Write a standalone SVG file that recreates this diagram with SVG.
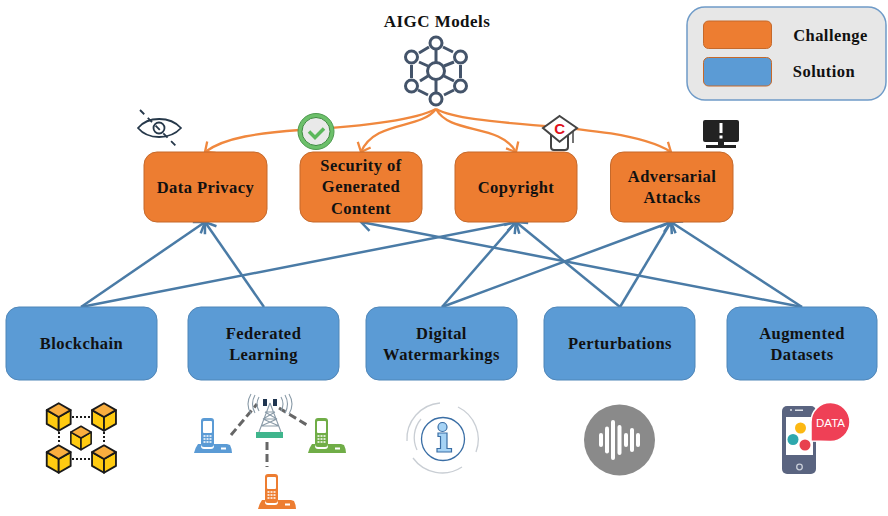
<svg xmlns="http://www.w3.org/2000/svg" width="888" height="516" viewBox="0 0 888 516">
<style>
text{font-family:"Liberation Serif","Times New Roman",serif;font-weight:bold;font-size:16.5px;fill:#111;text-anchor:middle;letter-spacing:.45px}
.ch{fill:#ed7d31;stroke:#c5692b;stroke-width:1}
.so{fill:#5b9bd5;stroke:#4f86b8;stroke-width:1}
.or{fill:none;stroke:#f0883e;stroke-width:2.300}
.bl{fill:none;stroke:#4a7ba6;stroke-width:2.500}
.net{fill:none;stroke:#44546a;stroke-width:3}
.top{fill:#f9ae3f;stroke:#1a1a1a;stroke-width:2;stroke-linejoin:round}
.sd{fill:#ffcb11;stroke:#1a1a1a;stroke-width:2;stroke-linejoin:round}
.ln{fill:none;stroke:#1a1a1a;stroke-width:2;stroke-dasharray:2 2}
.dsh{fill:none;stroke:#666;stroke-width:3;stroke-dasharray:8 4}
.bar{fill:#fff}
</style>
<defs>
<marker id="ao" markerUnits="userSpaceOnUse" markerWidth="18" markerHeight="18" refX="12" refY="9" orient="auto"><path d="M4,2L12,9L4,16" fill="none" stroke="#f0883e" stroke-width="2.300"/></marker>
<marker id="ab" markerUnits="userSpaceOnUse" markerWidth="20" markerHeight="20" refX="14" refY="10" orient="auto"><path d="M4,3L14,10L4,17" fill="none" stroke="#4a7ba6" stroke-width="2.500"/></marker>
<g id="cube" transform="scale(.92)"><path class="sd" d="M-13,-7.500L0,0L0,15L-13,7.500Z"/><path class="sd" d="M13,-7.500L0,0L0,15L13,7.500Z"/><path class="top" d="M0,-15L13,-7.500L0,0L-13,-7.500Z"/></g>
<g id="phone"><path d="M0,32Q1,27 4,23H7V25Q7,28 10,28H17Q20,28 20,25V23H33L36,24Q38,28 38,32Z" fill="currentColor"/><rect x="7" y="-3" width="13" height="29" rx="3" fill="currentColor"/><rect x="9" y="0" width="9" height="12" rx="1" fill="#fff"/><path d="M9.500,15h8M9.500,18h8M9.500,21h8" stroke="#fff" stroke-width="1.500" stroke-dasharray="2 1"/><rect x="27" y="26.500" width="5" height="2" fill="#fff"/></g>
</defs>
<g id="connectors">
<path class="or" marker-end="url(#ao)" d="M436,109C415,120 370,126 300,130C260,133 225,137 205,152"/>
<path class="or" marker-end="url(#ao)" d="M436,109C420,130 375,120 361,152"/>
<path class="or" marker-end="url(#ao)" d="M436,109C450,135 500,123 516,152"/>
<path class="or" marker-end="url(#ao)" d="M436,109C475,130 620,120 671,152"/>
<path class="bl" marker-end="url(#ab)" d="M81,307L205,222"/>
<path class="bl" marker-end="url(#ab)" d="M264,307L205,222"/>
<path class="bl" marker-end="url(#ab)" d="M81,307L516,222"/>
<path class="bl" marker-end="url(#ab)" d="M442,307L516,222"/>
<path class="bl" marker-end="url(#ab)" d="M442,307L671,222"/>
<path class="bl" marker-end="url(#ab)" d="M620,307L516,222"/>
<path class="bl" marker-end="url(#ab)" d="M620,307L671,222"/>
<path class="bl" marker-end="url(#ab)" d="M802,307L671,222"/>
<path class="bl" marker-end="url(#ab)" d="M802,307L361,222"/>
</g>
<g id="aigc-models">
<text x="437" y="27" style="font-size:17px">AIGC Models</text>
<g class="net">
<circle cx="436" cy="43" r="6"/><circle cx="411.500" cy="57" r="6"/><circle cx="460.500" cy="57" r="6"/><circle cx="411.500" cy="86" r="6"/><circle cx="460.500" cy="86" r="6"/><circle cx="436" cy="71" r="8.500"/><circle cx="436" cy="99" r="6"/>
<path d="M436,50V62M436,80V93M419,53L429,47M443,47L453,52M419,62L428,66M444,66L454,62M411.500,65V78M460.500,65V78M420,81L428,76M444,76L454,81M418,90L428,95M444,95L454,90"/>
</g>
</g>
<g id="data-privacy"><rect class="ch" x="144" y="152" width="123" height="70" rx="13"/><text x="205.500" y="193">Data Privacy</text>
<g id="eye-icon" fill="none" stroke="#26384a" stroke-width="1.800"><path d="M138,128C148,116 170,116 181,128C170,140 148,140 138,128Z"/><circle cx="159" cy="128" r="5.500"/><path d="M140,110L178,148" stroke-dasharray="6 5"/></g></g>
<g id="security"><rect class="ch" x="300" y="152" width="122" height="70" rx="13"/><text x="361" y="171">Security of</text><text x="361" y="192">Generated</text><text x="361" y="214">Content</text>
<g id="check-icon"><circle cx="316" cy="131.500" r="18" fill="#6cc06a" stroke="#4f9a50"/><circle cx="316" cy="131.500" r="14" fill="#e9e9e9" stroke="#3c8a3e"/><path d="M309,131.500L315,137.500L324,128.500" fill="none" stroke="#5cb85c" stroke-width="3.500"/></g></g>
<g id="copyright"><rect class="ch" x="455" y="152" width="122" height="70" rx="13"/><text x="516" y="193">Copyright</text>
<g id="cap-icon"><path d="M551,134V147Q551,150 554,150H565Q568,150 568,147V134" fill="#fff" stroke="#444" stroke-width="2"/><path d="M559.600,116L577,128L559.600,141.700L543,128Z" fill="#fff" stroke="#444" stroke-width="2"/><path d="M573,131V143" stroke="#444" stroke-width="1.500"/><text x="559.600" y="134" style="fill:#e0101c;font-family:'Liberation Sans',sans-serif;font-size:15px;letter-spacing:0">C</text></g></g>
<g id="adversarial"><rect class="ch" x="610.500" y="152" width="122.500" height="70" rx="13"/><text x="672" y="182">Adversarial</text><text x="672" y="203">Attacks</text>
<g id="monitor-icon"><rect x="703" y="120" width="36" height="22" rx="2" fill="#222"/><rect x="719.500" y="123" width="3" height="10" fill="#fff"/><rect x="719.500" y="135.500" width="3" height="3" fill="#fff"/><rect x="718" y="142" width="6" height="3" fill="#222"/><rect x="706" y="145" width="30" height="3" fill="#222"/></g></g>
<g id="blockchain"><rect class="so" x="6" y="307" width="151" height="73" rx="13"/><text x="81.500" y="349">Blockchain</text>
<g id="blockchain-icon"><path class="ln" d="M72,417H90M72,459H90M59,432V444M104,432V444"/><use href="#cube" x="58.700" y="417"/><use href="#cube" x="104" y="417"/><use href="#cube" x="58.700" y="459"/><use href="#cube" x="104" y="459"/><use href="#cube" transform="translate(81 438) scale(.85)"/></g></g>
<g id="federated"><rect class="so" x="188" y="307" width="151" height="73" rx="13"/><text x="263.500" y="339">Federated</text><text x="263.500" y="360">Learning</text>
<g id="fl-icon"><path class="dsh" d="M231,435L257,404M279,408L307,425M267,442V467"/>
<g fill="none" stroke="#8a9ba8" stroke-width="1.100"><path d="M270,403L259,432M270,403L281,432M265,412H275M263,419H277M261,426H279M265,412L277,419M275,412L263,419M263,419L279,426M277,419L261,426"/><path d="M259,397Q255,404 259,411M255,395Q250,404 255,413M251,394Q245,404 251,414M281,397Q285,404 281,411M285,395Q290,404 285,413M289,394Q295,404 289,414"/></g>
<rect x="263" y="399" width="4" height="7" fill="#1f3550"/><rect x="273" y="399" width="4" height="7" fill="#1f3550"/>
<rect x="256" y="432" width="27" height="6" fill="#3fb58c"/>
<use href="#phone" x="194" y="421" style="color:#5b9bd5"/><use href="#phone" x="308" y="421" style="color:#70ad47"/><use href="#phone" x="258" y="477" style="color:#ed7d31"/></g></g>
<g id="watermarkings"><rect class="so" x="366" y="307" width="151" height="73" rx="13"/><text x="441.500" y="339">Digital</text><text x="441.500" y="360">Watermarkings</text>
<g id="info-icon"><circle cx="443" cy="439" r="21.500" fill="#fff" stroke="#3a6ea5" stroke-width="1.300"/>
<path d="M438,433H447V448.500H451.500V452H437V448.500H440.500V436.500H438Z" fill="#a6d3f5" stroke="#3a6ea5" stroke-width="1.200"/><circle cx="442.500" cy="427" r="4.500" fill="#a6d3f5" stroke="#3a6ea5" stroke-width="1.200"/>
<g fill="none" stroke="#c9ced4" stroke-width="1.300"><path d="M440,403A36,36 0 0 0 407,441"/><path d="M458,407A36,36 0 0 1 476,452"/><path d="M413,458A36,36 0 0 0 462,467"/><path d="M421,419A29,29 0 0 0 417,450"/></g></g></g>
<g id="perturbations"><rect class="so" x="544" y="307" width="151" height="73" rx="13"/><text x="620" y="349">Perturbations</text>
<g id="sound-icon"><circle cx="619.500" cy="440" r="35.500" fill="#8a8a8a"/>
<rect class="bar" x="599" y="433" width="4" height="14" rx="2"/><rect class="bar" x="605" y="426.500" width="4" height="27" rx="2"/><rect class="bar" x="611" y="420" width="4" height="40" rx="2"/><rect class="bar" x="617.500" y="425" width="4" height="30" rx="2"/><rect class="bar" x="624" y="433" width="4" height="14" rx="2"/><rect class="bar" x="630" y="428" width="4" height="24" rx="2"/><rect class="bar" x="636" y="433" width="4" height="14" rx="2"/></g></g>
<g id="augmented"><rect class="so" x="727" y="307" width="150" height="73" rx="13"/><text x="802" y="339">Augmented</text><text x="802" y="360">Datasets</text>
<g id="data-icon"><rect x="782" y="406" width="34" height="68" rx="5" fill="#5a6480"/><rect x="786" y="417" width="27" height="38" fill="#fff"/><rect x="795" y="409.500" width="8" height="1.500" fill="#dfe3ea"/><circle cx="791" cy="410" r="1" fill="#dfe3ea"/><circle cx="799.500" cy="467" r="2.800" fill="none" stroke="#c9ced8" stroke-width="1.300"/>
<circle cx="800.500" cy="428" r="5.500" fill="#fcb813"/><circle cx="793" cy="439.500" r="5.500" fill="#2fa8ad"/><circle cx="805" cy="445" r="5.500" fill="#e8404e"/>
<path d="M811,441L811,422A19.500,19.500 0 1 1 830,441.500Z" fill="#ef4056" stroke="#fff" stroke-width="1.500"/>
<text x="830.500" y="426.500" style="fill:#fff;font-family:'Liberation Sans',sans-serif;font-weight:normal;font-size:11.500px;letter-spacing:0">DATA</text></g></g>
<g id="legend"><rect x="687" y="7" width="199" height="93" rx="18" fill="#e7e7e7" stroke="#6f9bc8" stroke-width="1.500"/>
<rect class="ch" x="703.500" y="21" width="68" height="27.500" rx="5"/><rect x="703.500" y="57.500" width="68" height="28.500" rx="5" fill="#5b9bd5" stroke="#c5692b"/>
<text x="830.500" y="40.500">Challenge</text><text x="824" y="77">Solution</text></g>
</svg>
